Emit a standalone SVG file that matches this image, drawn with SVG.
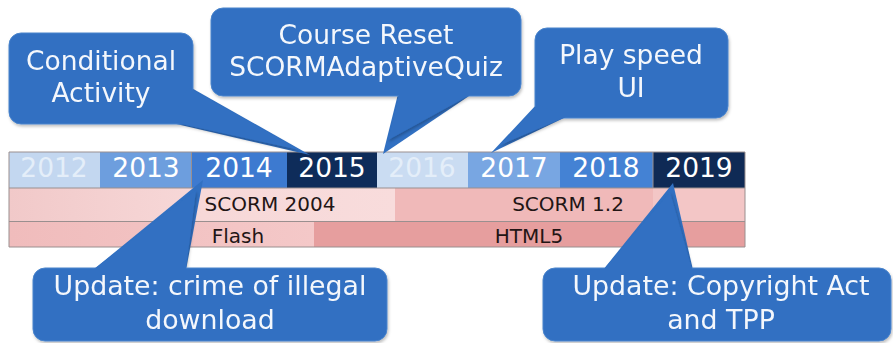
<svg xmlns="http://www.w3.org/2000/svg" width="893" height="343" viewBox="0 0 893 343">
<defs>
<style>
.yr{font-family:"DejaVu Sans",Verdana,sans-serif;font-size:26.5px;fill:#ffffff;text-anchor:middle}
.yrf{fill:#e4eef9}
.lbl{font-family:"DejaVu Sans",Verdana,sans-serif;font-size:20px;fill:#221515;text-anchor:middle}
.co{fill:#3170c2;stroke:#4a84cc;stroke-width:1}
.tail{fill:#3170c2}
.ct{font-family:"DejaVu Sans",Verdana,sans-serif;font-size:26.5px;fill:#f4f7fc;text-anchor:middle}
.ct2{font-size:26.8px}
.grid{stroke:#9a8f8f;stroke-width:1;fill:none}
</style>
<filter id="sh" x="-10%" y="-10%" width="130%" height="130%">
<feDropShadow dx="1" dy="2" stdDeviation="1.5" flood-color="#000" flood-opacity="0.25"/>
</filter>
<linearGradient id="scL" x1="0" x2="1" y1="0" y2="0">
<stop offset="0" stop-color="#f1c9c9"/><stop offset="0.5" stop-color="#f7d8d8"/><stop offset="1" stop-color="#f8dcdc"/>
</linearGradient>
<linearGradient id="flL" x1="0" x2="1" y1="0" y2="0">
<stop offset="0" stop-color="#f0bcbc"/><stop offset="1" stop-color="#f4c8c8"/>
</linearGradient>
</defs>

<g id="timeline">
<rect x="9" y="152" width="91" height="36" fill="#c3d7f0"/>
<rect x="100" y="152" width="92" height="36" fill="#6d9ede"/>
<rect x="192" y="152" width="95" height="36" fill="#3d7ad0"/>
<rect x="287" y="152" width="90" height="36" fill="#0e2c5a"/>
<rect x="377" y="152" width="91" height="36" fill="#cadcf2"/>
<rect x="468" y="152" width="92" height="36" fill="#78a6e2"/>
<rect x="560" y="152" width="93" height="36" fill="#4482d4"/>
<rect x="653" y="152" width="92" height="36" fill="#0f2a55"/>
<text class="yr yrf" x="54" y="177">2012</text>
<text class="yr" x="146" y="177">2013</text>
<text class="yr" x="239" y="177">2014</text>
<text class="yr" x="332" y="177">2015</text>
<text class="yr yrf" x="422" y="177">2016</text>
<text class="yr" x="514" y="177">2017</text>
<text class="yr" x="606" y="177">2018</text>
<text class="yr" x="699" y="177">2019</text>

<rect x="9" y="188" width="386" height="34" fill="url(#scL)"/>
<rect x="395" y="188" width="258" height="34" fill="#f0b9b9"/>
<rect x="653" y="188" width="92" height="34" fill="#f3c6c6"/>
<text class="lbl" x="270" y="211">SCORM 2004</text>
<text class="lbl" x="568" y="211">SCORM 1.2</text>

<rect x="9" y="222" width="305" height="25" fill="url(#flL)"/>
<rect x="314" y="222" width="431" height="25" fill="#e69e9e"/>
<text class="lbl" x="238" y="243">Flash</text>
<text class="lbl" x="529" y="243">HTML5</text>

<line class="grid" x1="9" y1="152" x2="745" y2="152"/>
<line class="grid" x1="9" y1="188" x2="745" y2="188"/>
<line class="grid" x1="9" y1="221.5" x2="745" y2="221.5" stroke="#8a6a6a"/>
<line class="grid" x1="9" y1="247" x2="745" y2="247"/>
<line class="grid" x1="9" y1="152" x2="9" y2="247"/>
<line class="grid" x1="745" y1="152" x2="745" y2="247"/>
<line class="grid" x1="191.5" y1="152" x2="191.5" y2="188"/>
<line class="grid" x1="653" y1="152" x2="653" y2="188" stroke="#dde"/>
</g>

<g id="connectors">
<polygon class="tail" points="188,86 310,155 172,123"/>
<polygon class="tail" points="398,94 383,154 472,94"/>
<polygon class="tail" points="537,104 491,153 568,116"/>
<polygon class="tail" points="93,270 203,180 186,270"/>
<polygon class="tail" points="603,270 673,183 693,270"/>
</g>

<g id="callout-conditional" filter="url(#sh)">
<rect class="co" x="9" y="33" width="184" height="91" rx="12"/>
<polygon class="tail" points="188,87 300,150 172,122"/>
<text class="ct" x="101" y="70">Conditional</text>
<text class="ct" x="101" y="102">Activity</text>
</g>

<g id="callout-course" filter="url(#sh)">
<rect class="co" x="211" y="8" width="310" height="88" rx="12"/>
<polygon class="tail" points="399,95 388,140 470,95"/>
<text class="ct" x="366" y="44">Course Reset</text>
<text class="ct" x="366" y="76">SCORMAdaptiveQuiz</text>
</g>

<g id="callout-playspeed" filter="url(#sh)">
<rect class="co" x="535" y="28" width="193" height="90" rx="12"/>
<polygon class="tail" points="538,104 500,145 566,117"/>
<text class="ct" x="631" y="64">Play speed</text>
<text class="ct" x="631" y="97">UI</text>
</g>

<g id="callout-crime" filter="url(#sh)">
<rect class="co" x="33" y="268" width="354" height="73" rx="12"/>
<polygon class="tail" points="94,269 196,190 186,269"/>
<text class="ct ct2" x="210" y="295">Update: crime of illegal</text>
<text class="ct ct2" x="210" y="329">download</text>
</g>

<g id="callout-copyright" filter="url(#sh)">
<rect class="co" x="543" y="268" width="348" height="73" rx="12"/>
<polygon class="tail" points="604,269 670,192 692,269"/>
<text class="ct ct2" x="721" y="295">Update: Copyright Act</text>
<text class="ct ct2" x="721" y="329">and TPP</text>
</g>
</svg>
